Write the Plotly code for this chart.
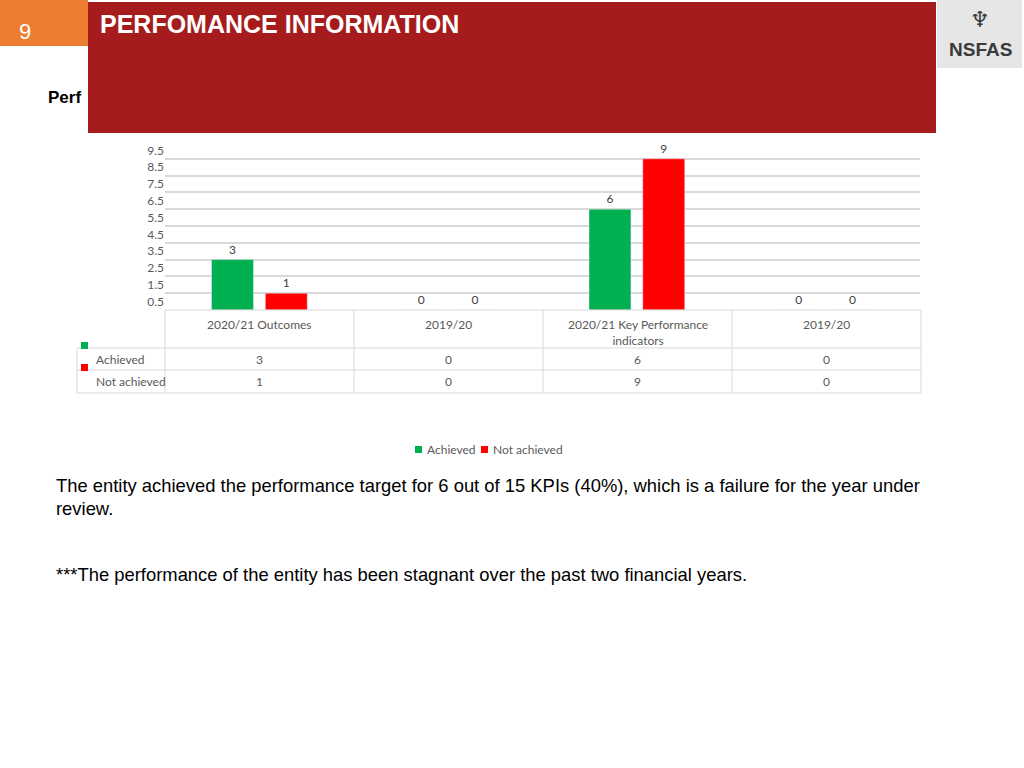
import plotly.graph_objects as go

categories = ["2020/21 Outcomes", "2019/20", "2020/21 Key Performance<br>indicators", "2019/20 "]
achieved = [3, 0, 6, 0]
not_achieved = [1, 0, 9, 0]
tick_vals = [0.5, 1.5, 2.5, 3.5, 4.5, 5.5, 6.5, 7.5, 8.5, 9.5]
GREEN = "#00b050"
RED = "#ff0000"
W, H = 1024, 768

def px(x):
    return x / W

def py(y):
    return 1 - y / H

fig = go.Figure()
fig.add_trace(go.Bar(x=categories, y=achieved, name="Achieved", marker_color=GREEN,
                     text=achieved, textposition="outside", cliponaxis=False,
                     textfont=dict(size=12, color="#404040")))
fig.add_trace(go.Bar(x=categories, y=not_achieved, name="Not achieved", marker_color=RED,
                     text=not_achieved, textposition="outside", cliponaxis=False,
                     textfont=dict(size=12, color="#404040")))
# invisible trace to carry the gridline axis
fig.add_trace(go.Scatter(x=categories, y=achieved, yaxis="y2",
                         mode="markers", marker=dict(opacity=0), showlegend=False, hoverinfo="skip"))

fig.update_layout(
    width=W, height=H, margin=dict(l=0, r=0, t=0, b=0),
    paper_bgcolor="white", plot_bgcolor="white",
    font=dict(family="Lato, Liberation Sans", color="#595959", size=12),
    barmode="group", bargap=0.43, bargroupgap=0.22,
    showlegend=False,
    xaxis=dict(domain=[px(165), px(920)], anchor="y", showticklabels=False,
               showline=False, showgrid=False),
    yaxis=dict(domain=[py(310), py(142)], range=[0, 10], tickvals=tick_vals,
               ticktext=[str(v) for v in tick_vals], showgrid=False, zeroline=False,
               tickfont=dict(size=12, color="#595959")),
    yaxis2=dict(overlaying="y", range=[0, 10], tickvals=list(range(1, 11)),
                showticklabels=False, showgrid=True, gridcolor="#d9d9d9", gridwidth=1.5,
                zeroline=False),
)

shapes = []
ann = []
line = dict(color="#d9d9d9", width=1)

def note(x, y, text, **kw):
    d = dict(xref="paper", yref="paper", x=px(x), y=py(y), text=text, showarrow=False,
             xanchor="center", yanchor="middle")
    d.update(kw)
    ann.append(d)

def box(x0, y0, x1, y1, color):
    shapes.append(dict(type="rect", xref="paper", yref="paper", x0=px(x0), x1=px(x1),
                       y0=py(y1), y1=py(y0), fillcolor=color, line_width=0))

# data table grid
col_x = [165, 354, 543, 732, 921]
for x in col_x:
    shapes.append(dict(type="line", xref="paper", yref="paper", x0=px(x), x1=px(x),
                       y0=py(310), y1=py(393), line=line))
shapes.append(dict(type="line", xref="paper", yref="paper", x0=px(77), x1=px(77),
                   y0=py(348), y1=py(393), line=line))
for y, x0 in [(310, 165), (348, 77), (370, 77), (393, 77)]:
    shapes.append(dict(type="line", xref="paper", yref="paper", x0=px(x0), x1=px(921),
                       y0=py(y), y1=py(y), line=line))
for i, c in enumerate(categories):
    cx = (col_x[i] + col_x[i + 1]) / 2
    note(cx, 315, c.strip(), yanchor="top")
    note(cx, 359, str(achieved[i]))
    note(cx, 382, str(not_achieved[i]))
note(94, 359, "Achieved", xanchor="left")
note(94, 382, "Not achieved", xanchor="left")
box(81, 342, 88, 349, GREEN)
box(81, 364, 88, 371, RED)
# bottom legend
box(415, 446, 422, 453, GREEN)
note(425, 449, "Achieved", xanchor="left")
box(481, 446, 488, 453, RED)
note(491, 449, "Not achieved", xanchor="left")

# slide header
box(0, 0, 88, 46, "#ed7d31")
note(25, 32, "9", font=dict(family="Liberation Sans", size=22, color="white"))
note(46, 97, "<b>Perf</b>", xanchor="left", font=dict(family="Liberation Sans", size=17, color="black"))
box(88, 2, 936, 133, "#a61c1c")
note(98, 24, "<b>PERFOMANCE INFORMATION</b>", xanchor="left",
     font=dict(family="Liberation Sans", size=25, color="white"))
box(937, 0, 1022, 68, "#e6e6e6")
note(980, 49, "<b>NSFAS</b>", font=dict(family="Liberation Sans", size=19, color="#3a3a3a"))
note(980, 20, "<b>♆</b>", font=dict(family="DejaVu Sans", size=22, color="#3a3a3a"))

body = dict(family="Liberation Sans", size=18.4, color="black")
note(54, 485, "The entity achieved the performance target for 6 out of 15 KPIs (40%), which is a failure for the year under",
     xanchor="left", font=body)
note(54, 508, "review.", xanchor="left", font=body)
note(54, 574, "***The performance of the entity has been stagnant over the past two financial years.",
     xanchor="left", font=body)

fig.update_layout(shapes=shapes, annotations=ann)
fig.write_html("out.html", config={"displayModeBar": False},
               post_script="document.body.style.margin='0';")
